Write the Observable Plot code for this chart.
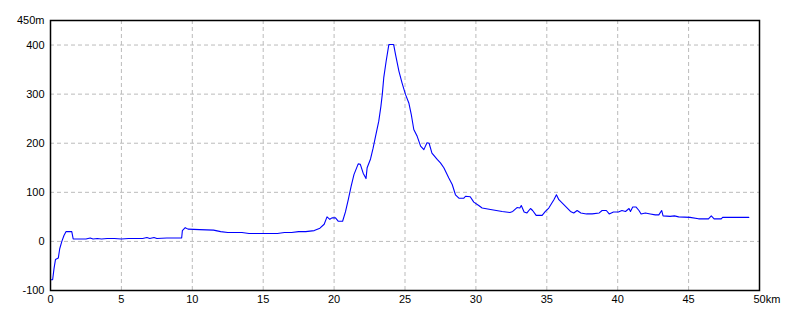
<!DOCTYPE html>
<html><head><meta charset="utf-8">
<script src="https://cdn.jsdelivr.net/npm/d3@7"></script>
<script src="https://cdn.jsdelivr.net/npm/@observablehq/plot@0.6"></script>
<style>body{margin:0;background:#fff}</style>
</head><body><div id="chart"></div>
<script>
const km = [0,0.15,0.25,0.35,0.55,0.65,0.8,0.95,1.1,1.5,1.6,2.5,2.8,3.0,3.3,3.6,4.0,4.5,5.0,5.5,6.0,6.5,6.8,7.0,7.3,7.5,8.2,9.25,
  9.3,9.5,9.7,10.5,11.5,12.0,12.5,13.5,14.0,15.0,16.0,16.5,17.0,17.5,18.0,18.6,19.0,19.3,19.5,19.7,19.85,20.1,20.3,20.6,20.8,
  21.0,21.2,21.4,21.7,21.85,22.05,22.25,22.33,22.57,22.75,22.9,23.15,23.3,23.4,23.5,23.67,23.86,24.2,24.33,24.57,24.8,25.04,
  25.27,25.44,25.62,25.86,26.1,26.33,26.55,26.7,26.9,27.27,27.5,27.74,28.09,28.33,28.56,28.8,29.15,29.27,29.6,29.85,30.2,30.44,
  31.03,31.85,32.4,32.6,32.9,33.1,33.2,33.4,33.6,33.85,34.0,34.25,34.67,34.9,35.14,35.5,35.68,35.85,36.2,36.67,36.9,37.14,37.4,
  37.8,38.2,38.7,38.9,39.2,39.4,39.7,40.05,40.3,40.55,40.8,40.9,41.06,41.3,41.5,41.65,41.95,42.3,42.65,42.9,43.1,43.2,43.7,44.0,
  44.3,45.1,45.7,46.4,46.6,46.8,47.3,47.4,49.25];
const elev = [-78,-78,-55,-37,-34,-15,0,12,20,20,5,5,7,5,6,5,6,6,5,6,6,6,8,6,8,6,7,7,
  22,28,25,24,23,20,18,18,16,16,16,18,18,20,20,22,27,35,50,45,48,48,41,41,60,
  85,112,136,158,157,139,128,150,168,190,211,245,275,300,333,367,401,401,381,347,322,299,
  282,259,228,214,194,187,201,200,180,167,160,150,129,116,95,88,88,92,91,80,73,68,
  65,61,59,61,69,68,73,60,58,67,63,53,53,61,68,85,95,85,75,61,58,63,58,
  56,56,58,63,63,56,60,60,63,61,67,61,70,70,63,56,58,56,54,54,63,52,51,52,
  50,49,46,46,52,46,46,49,49];
const xTicks = [0,5,10,15,20,25,30,35,40,45];
const xGrid = [5,10,15,20,25,30,35,40,45];
const yTicks = [-100,0,100,200,300,400,450];
const yGrid = [0,100,200,300,400];
const xEndLabel = ["50km"];
const yEndLabel = "450m";

const data = km.map((k,i)=>({km:k, m:elev[i]}));

const chart = Plot.plot({
  width:800, height:320,
  marginLeft:50, marginRight:41, marginTop:20, marginBottom:30,
  style:{fontFamily:"'Liberation Sans', Arial, sans-serif", fontSize:"11px", background:"#fff", color:"#000"},
  x:{domain:[0,50]},
  y:{domain:[-100,450]},
  marks:[
    Plot.gridX(xGrid, {stroke:"#bbbbbb", strokeOpacity:1, strokeDasharray:"4,3"}),
    Plot.gridY(yGrid, {stroke:"#bbbbbb", strokeOpacity:1, strokeDasharray:"4,3"}),
    Plot.axisX(xTicks, {tickSize:0, tickPadding:5, tickFormat:d=>String(d), label:null}),
    Plot.axisY(yTicks, {tickSize:0, tickPadding:6, tickFormat:d=> d===450 ? yEndLabel : String(d), label:null}),
    Plot.text(xEndLabel, {x:()=>50, y:()=>-100, text:d=>d, textAnchor:"start", lineAnchor:"top", dx:-6, dy:5}),
    Plot.line(data, {x:"km", y:"m", stroke:"#0000ff", strokeWidth:1.1}),
    Plot.frame({stroke:"#000", strokeWidth:1.5})
  ]
});
document.getElementById("chart").append(chart);
</script>
</body></html>
